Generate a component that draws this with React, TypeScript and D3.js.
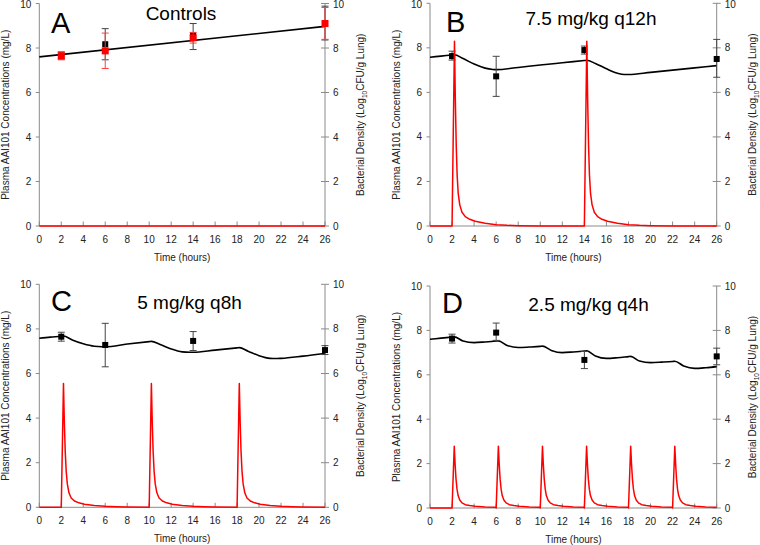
import React from 'react';
import * as d3 from 'd3';

type Pt = [number, number];

// ---------- shared ticks ----------
const timeTicks = [0, 2, 4, 6, 8, 10, 12, 14, 16, 18, 20, 22, 24, 26];
const concTicks = [0, 2, 4, 6, 8, 10];
const obsTimes = [2, 6, 14, 26];

// ---------- Panel A: Controls ----------
const ctrlModel: Pt[] = [[0, 7.6], [26, 8.97]];
const ctrlBlackMean = [7.65, 8.17, 8.57, 9.1];
const ctrlBlackLo = [7.5, 7.47, 7.93, 8.36];
const ctrlBlackHi = [7.82, 8.87, 9.1, 9.88];
const ctrlRedMean = [7.65, 7.87, 8.46, 9.1];
const ctrlRedLo = [7.47, 7.08, 8.22, 8.39];
const ctrlRedHi = [7.83, 8.67, 8.7, 9.82];
const ctrlPk: Pt[] = [[0, 0], [26, 0]];

// ---------- Panel B: 7.5 mg/kg q12h ----------
const q12Model: Pt[] = [[0, 7.58], [1, 7.63], [2, 7.68], [2.2, 7.69], [3, 7.52], [4, 7.27], [5, 7.09], [5.7, 7.03], [6, 7.02], [8, 7.12], [10, 7.23], [12, 7.33], [14, 7.43], [14.2, 7.44], [15, 7.3], [16, 7.06], [17, 6.86], [17.6, 6.8], [18, 6.8], [20, 6.9], [22, 7.0], [24, 7.1], [26, 7.2]];
const q12Mean = [7.63, 6.72, 7.9, 7.5];
const q12Lo = [7.45, 5.82, 7.72, 6.68];
const q12Hi = [7.85, 7.62, 8.08, 8.38];
const q12Doses = [2, 14];
const q12Profile: Pt[] = [[0, 0], [0.22, 8.3], [0.3, 5.6], [0.38, 3.6], [0.46, 2.3], [0.56, 1.45], [0.7, 0.95], [0.9, 0.62], [1.2, 0.42], [1.6, 0.3], [2.1, 0.21], [3, 0.12], [4, 0.06], [5, 0.03], [6, 0.015], [8, 0.005], [12, 0]];

// ---------- Panel C: 5 mg/kg q8h ----------
const q8Model: Pt[] = [[0, 7.58], [1, 7.63], [2, 7.67], [2.2, 7.68], [3, 7.5], [4, 7.33], [5, 7.22], [5.7, 7.2], [6, 7.2], [8, 7.32], [10, 7.43], [10.2, 7.44], [11, 7.3], [12, 7.1], [13, 6.97], [13.7, 6.95], [14, 6.95], [16, 7.05], [18, 7.15], [18.2, 7.16], [19, 7.0], [20, 6.8], [21, 6.68], [21.5, 6.67], [22, 6.68], [24, 6.78], [26, 6.9]];
const q8Mean = [7.65, 7.28, 7.46, 7.05];
const q8Lo = [7.45, 6.3, 7.03, 6.85];
const q8Hi = [7.85, 8.25, 7.88, 7.25];
const q8Doses = [2, 10, 18];
const q8Profile: Pt[] = [[0, 0], [0.2, 5.55], [0.28, 3.8], [0.36, 2.5], [0.45, 1.6], [0.55, 1.05], [0.7, 0.65], [0.9, 0.42], [1.2, 0.28], [1.6, 0.2], [2.1, 0.14], [3, 0.08], [4, 0.045], [5, 0.025], [6, 0.012], [8, 0.004]];

// ---------- Panel D: 2.5 mg/kg q4h ----------
const q4Model: Pt[] = [[0, 7.6], [1, 7.65], [2, 7.7], [2.2, 7.71], [3, 7.52], [4, 7.45], [5, 7.48], [6, 7.52], [6.2, 7.53], [7, 7.32], [8, 7.23], [9, 7.25], [10, 7.28], [10.2, 7.29], [11, 7.1], [12, 7.0], [13, 7.03], [14, 7.07], [14.2, 7.08], [15, 6.85], [16, 6.74], [17, 6.77], [18, 6.82], [18.2, 6.83], [19, 6.62], [20, 6.55], [21, 6.57], [22, 6.6], [22.2, 6.61], [23, 6.4], [24, 6.29], [25, 6.32], [26, 6.37]];
const q4Mean = [7.63, 7.9, 6.67, 6.83];
const q4Lo = [7.43, 7.55, 6.28, 6.45];
const q4Hi = [7.83, 8.33, 7.05, 7.2];
const q4Doses = [2, 6, 10, 14, 18, 22];
const q4Profile: Pt[] = [[0, 0], [0.2, 2.78], [0.28, 1.95], [0.36, 1.3], [0.45, 0.85], [0.55, 0.56], [0.7, 0.36], [0.9, 0.23], [1.2, 0.15], [1.6, 0.11], [2.1, 0.08], [3, 0.05], [4, 0.03]];

function buildPk(doses: number[], profile: Pt[]): Pt[] {
  const pts: Pt[] = [[0, 0]];
  doses.forEach((d, i) => {
    const next = i < doses.length - 1 ? doses[i + 1] : 26;
    profile.forEach(([o, c]) => {
      if (d + o <= next + 1e-9) pts.push([d + o, c]);
    });
  });
  return pts;
}

interface Obs { mean: number[]; lo: number[]; hi: number[]; color: string; barColor: string; size: number }

interface PanelProps {
  x0: number; x1: number; yT: number; yB: number;
  letter: string; letterX: number; letterY: number;
  title: string; titleX: number; titleY: number;
  model: Pt[]; obs: Obs[]; pk: Pt[];
}

const FONT = '"Liberation Sans", Arial, Helvetica, sans-serif';
const AXIS = '#8a8a8a';

function Panel(p: PanelProps) {
  const sx = d3.scaleLinear().domain([0, 26]).range([p.x0, p.x1]);
  const sy = d3.scaleLinear().domain([0, 10]).range([p.yB, p.yT]);
  const modelLine = d3.line<Pt>().x(d => sx(d[0])).y(d => sy(d[1])).curve(d3.curveMonotoneX);
  const pkLine = d3.line<Pt>().x(d => sx(d[0])).y(d => sy(d[1]));
  const midY = (p.yT + p.yB) / 2;
  return (
    <g fontFamily={FONT}>
      {/* axes */}
      <line x1={p.x0} x2={p.x0} y1={p.yT} y2={p.yB} stroke={AXIS} strokeWidth={1} />
      <line x1={p.x1} x2={p.x1} y1={p.yT} y2={p.yB} stroke={AXIS} strokeWidth={1} />
      <line x1={p.x0} x2={p.x1} y1={p.yB} y2={p.yB} stroke={AXIS} strokeWidth={1} />
      {concTicks.map(t => {
        const ly = Math.max(sy(t), 4.6);
        return (
          <g key={'y' + t}>
            <line x1={p.x0 - 3.5} x2={p.x0} y1={sy(t)} y2={sy(t)} stroke={AXIS} />
            <line x1={p.x1 - 4} x2={p.x1 + 4} y1={sy(t)} y2={sy(t)} stroke={AXIS} />
            <text x={p.x0 - 8} y={ly} dy="0.35em" textAnchor="end" fontSize={10} fill="#222">{t}</text>
            <text x={p.x1 + 8} y={ly} dy="0.35em" textAnchor="start" fontSize={10} fill="#222">{t}</text>
          </g>
        );
      })}
      {timeTicks.map(t => (
        <g key={'x' + t}>
          <line x1={sx(t)} x2={sx(t)} y1={p.yB - 4.5} y2={p.yB} stroke={AXIS} />
          <text x={sx(t)} y={p.yB + 13} dy="0.35em" textAnchor="middle" fontSize={10} fill="#222">{t}</text>
        </g>
      ))}
      <text x={(p.x0 + p.x1) / 2} y={p.yB + 31} dy="0.35em" textAnchor="middle" fontSize={10} fill="#222">Time (hours)</text>
      <text transform={`translate(${p.x0 - 34},${midY}) rotate(-90)`} dy="0.35em" textAnchor="middle" fontSize={10} fill="#222">Plasma AAI101 Concentrations (mg/L)</text>
      <text transform={`translate(${p.x1 + 35.5},${midY}) rotate(-90)`} dy="0.35em" textAnchor="middle" fontSize={10} fill="#222">
        Bacterial Density (Log<tspan fontSize={6.5} dy={3}>10</tspan><tspan dy={-3}>CFU/g Lung)</tspan>
      </text>
      {/* letter and title */}
      <text x={p.letterX} y={p.letterY} fontSize={29} fill="#000">{p.letter}</text>
      <text x={p.titleX} y={p.titleY} textAnchor="middle" fontSize={19} fill="#000">{p.title}</text>
      {/* model */}
      <path d={modelLine(p.model) || ''} fill="none" stroke="#000" strokeWidth={1.6} />
      {/* observations */}
      {p.obs.map((o, k) => (
        <g key={'o' + k}>
          {obsTimes.map((t, i) => (
            <g key={i} stroke={o.barColor} strokeWidth={1}>
              <line x1={sx(t)} x2={sx(t)} y1={sy(o.lo[i])} y2={sy(o.hi[i])} />
              <line x1={sx(t) - 3.5} x2={sx(t) + 3.5} y1={sy(o.lo[i])} y2={sy(o.lo[i])} />
              <line x1={sx(t) - 3.5} x2={sx(t) + 3.5} y1={sy(o.hi[i])} y2={sy(o.hi[i])} />
            </g>
          ))}
          {obsTimes.map((t, i) => (
            <rect key={'m' + i} x={sx(t) - o.size / 2} y={sy(o.mean[i]) - o.size / 2} width={o.size} height={o.size} fill={o.color} />
          ))}
        </g>
      ))}
      {/* PK */}
      <path d={pkLine(p.pk) || ''} fill="none" stroke="#ff0000" strokeWidth={1.5} strokeLinejoin="round" />
    </g>
  );
}

export default function App() {
  const blk = (mean: number[], lo: number[], hi: number[]): Obs => ({ mean, lo, hi, color: '#000', barColor: '#444', size: 6 });
  return (
    <svg width={760} height={545} style={{ position: 'absolute', left: 0, top: 0, background: '#fff' }}>
      <rect width={760} height={545} fill="#fff" />
      <Panel x0={39.3} x1={325} yT={3.5} yB={226}
        letter="A" letterX={51} letterY={33} title="Controls" titleX={181} titleY={20}
        model={ctrlModel}
        obs={[blk(ctrlBlackMean, ctrlBlackLo, ctrlBlackHi), { mean: ctrlRedMean, lo: ctrlRedLo, hi: ctrlRedHi, color: '#ff0000', barColor: '#ff4040', size: 7 }]}
        pk={ctrlPk} />
      <Panel x0={430} x1={716.7} yT={3.3} yB={226}
        letter="B" letterX={446} letterY={32} title="7.5 mg/kg q12h" titleX={591} titleY={25}
        model={q12Model} obs={[blk(q12Mean, q12Lo, q12Hi)]} pk={buildPk(q12Doses, q12Profile)} />
      <Panel x0={39.3} x1={325} yT={284.3} yB={507.3}
        letter="C" letterX={51} letterY={311} title="5 mg/kg q8h" titleX={189.5} titleY={309}
        model={q8Model} obs={[blk(q8Mean, q8Lo, q8Hi)]} pk={buildPk(q8Doses, q8Profile)} />
      <Panel x0={430} x1={716.7} yT={286} yB={508}
        letter="D" letterX={442} letterY={313} title="2.5 mg/kg q4h" titleX={588.5} titleY={311}
        model={q4Model} obs={[blk(q4Mean, q4Lo, q4Hi)]} pk={buildPk(q4Doses, q4Profile)} />
    </svg>
  );
}
